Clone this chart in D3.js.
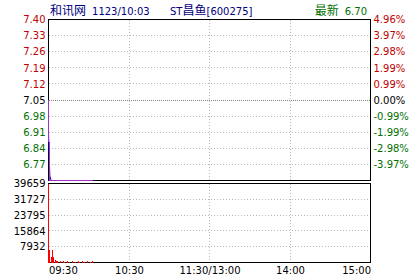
<!DOCTYPE html>
<html>
<head>
<meta charset="utf-8">
<script src="https://cdn.jsdelivr.net/npm/d3@7"></script>
<style>
  body { margin: 0; background: #fff; }
  svg { display: block; }
</style>
</head>
<body>
<svg id="chart" width="420" height="280"></svg>
<script>
// data
const preClose = 7.05;
const lastPrice = 6.70;
const priceTicks = [7.40, 7.33, 7.26, 7.19, 7.12, 7.05, 6.98, 6.91, 6.84, 6.77, 6.70];
const volTicks = [39659, 31727, 23795, 15864, 7932, 0];
const timeMinutes = [0, 60, 120, 180, 240];
const timeLabels = ['09:30', '10:30', '11:30/13:00', '14:00', '15:00'];

// one value per minute, 09:30 .. 10:03
const price = [6.91, 6.72, 6.70, 6.70, 6.70, 6.70, 6.70, 6.70, 6.70, 6.70, 6.70, 6.70,
  6.70, 6.70, 6.70, 6.70, 6.70, 6.70, 6.70, 6.70, 6.70, 6.70, 6.70, 6.70,
  6.70, 6.70, 6.70, 6.70, 6.70, 6.70, 6.70, 6.70, 6.70, 6.70];
const avgPrice = [7.05, 6.70, 6.70, 6.70, 6.70, 6.70, 6.70, 6.70, 6.70, 6.70, 6.70, 6.70,
  6.70, 6.70, 6.70, 6.70, 6.70, 6.70, 6.70, 6.70, 6.70, 6.70, 6.70, 6.70,
  6.70, 6.70, 6.70, 6.70, 6.70, 6.70, 6.70, 6.70, 6.70, 6.70];
const volume = [39659, 6500, 3000, 6200, 2600, 1500, 900, 700, 0, 600, 0, 700,
  500, 0, 600, 0, 500, 0, 600, 0, 500, 0, 600, 500, 0, 600, 0, 500,
  0, 600, 0, 500, 0, 600];

const svg = d3.select('#chart');
const FONT = 'DejaVu Sans, Verdana, sans-serif';
const CJK = 'Noto Sans CJK SC, sans-serif';
const RED = '#c00000', GREEN = '#007000', NAVY = '#000080';

// panel boxes
const left = 48.5, right = 370.5;
const pTop = 19.5, pBot = 180.5;
const vTop = 183.5, vBot = 262.5;

const x = d3.scaleLinear().domain([0, 240]).range([left, right]);
const yP = d3.scaleLinear().domain([6.70, 7.40]).range([pBot, pTop]);
const yV = d3.scaleLinear().domain([0, 39659]).range([vBot, vTop]);

const colorOf = v => Math.abs(v - preClose) < 1e-6 ? '#000' : (v > preClose ? RED : GREEN);
const snap = v => Math.round(v - 0.5) + 0.5;
// plain hyphen for minus, like the original
const pct = d => ((d - preClose) / preClose * 100).toFixed(2) + '%';

// title line
const t1 = svg.append('text').attr('x', 50).attr('y', 15).attr('fill', NAVY);
t1.append('tspan').attr('font-family', CJK).attr('font-size', 12).text('和讯网');
t1.append('tspan').attr('font-family', FONT).attr('font-size', 10).attr('dx', 6).text('1123/10:03');

const t2 = svg.append('text').attr('x', 170).attr('y', 15).attr('fill', NAVY);
t2.append('tspan').attr('font-family', FONT).attr('font-size', 10).text('ST');
t2.append('tspan').attr('font-family', CJK).attr('font-size', 12).text('昌鱼');
t2.append('tspan').attr('font-family', FONT).attr('font-size', 10).text('[600275]');

const t3 = svg.append('text').attr('x', 367).attr('y', 15).attr('text-anchor', 'end').attr('fill', GREEN);
t3.append('tspan').attr('font-family', CJK).attr('font-size', 12).text('最新');
t3.append('tspan').attr('font-family', FONT).attr('font-size', 10).attr('dx', 6).text(lastPrice.toFixed(2));

// grid
const grid = svg.append('g').attr('shape-rendering', 'crispEdges');
grid.selectAll('.hp')
  .data(priceTicks.slice(1, -1))
  .enter().append('line')
  .attr('x1', left).attr('x2', right)
  .attr('y1', d => snap(yP(d))).attr('y2', d => snap(yP(d)))
  .attr('stroke', d => d === preClose ? '#808080' : '#b8b8b8')
  .attr('stroke-dasharray', d => d === preClose ? '1,1' : '1,2');

grid.selectAll('.hv')
  .data(volTicks.slice(1, -1))
  .enter().append('line')
  .attr('x1', left).attr('x2', right)
  .attr('y1', d => snap(yV(d))).attr('y2', d => snap(yV(d)))
  .attr('stroke', '#b8b8b8')
  .attr('stroke-dasharray', '1,2');

[[pTop, pBot], [vTop, vBot]].forEach(([a, b]) => {
  grid.selectAll(null)
    .data(timeMinutes.slice(1, -1))
    .enter().append('line')
    .attr('x1', d => snap(x(d))).attr('x2', d => snap(x(d)))
    .attr('y1', a).attr('y2', b)
    .attr('stroke', '#b8b8b8')
    .attr('stroke-dasharray', '1,2');
});

// boxes
svg.append('rect').attr('x', left).attr('y', pTop).attr('width', right - left).attr('height', pBot - pTop)
  .attr('fill', 'none').attr('stroke', '#000').attr('shape-rendering', 'crispEdges');
svg.append('rect').attr('x', left).attr('y', vTop).attr('width', right - left).attr('height', vBot - vTop)
  .attr('fill', 'none').attr('stroke', '#000').attr('shape-rendering', 'crispEdges');

// axes
const axL = svg.append('g').attr('transform', `translate(${left - 2},0)`)
  .call(d3.axisLeft(yP).tickValues(priceTicks.slice(0, -1)).tickSize(0).tickPadding(1).tickFormat(d => d.toFixed(2)));
axL.select('.domain').remove();
axL.selectAll('text').attr('font-family', FONT).attr('font-size', 10).attr('fill', d => colorOf(d));

const axR = svg.append('g').attr('transform', `translate(${right + 2},0)`)
  .call(d3.axisRight(yP).tickValues(priceTicks.slice(0, -1)).tickSize(0).tickPadding(1).tickFormat(pct));
axR.select('.domain').remove();
axR.selectAll('text').attr('font-family', FONT).attr('font-size', 10).attr('fill', d => colorOf(d));

const axV = svg.append('g').attr('transform', `translate(${left - 2},0)`)
  .call(d3.axisLeft(yV).tickValues(volTicks.slice(0, -1)).tickSize(0).tickPadding(1).tickFormat(d3.format('d')));
axV.select('.domain').remove();
axV.selectAll('text').attr('font-family', FONT).attr('font-size', 10).attr('fill', '#000');

const axT = svg.append('g').attr('transform', `translate(0,${vBot + 3})`)
  .call(d3.axisBottom(x).tickValues(timeMinutes).tickSize(0).tickPadding(1)
    .tickFormat((d, i) => timeLabels[i]));
axT.select('.domain').remove();
axT.selectAll('text')
  .attr('font-family', FONT).attr('font-size', 10).attr('fill', '#000')
  .attr('text-anchor', (d, i) => i === 0 ? 'start' : (i === timeMinutes.length - 1 ? 'end' : 'middle'));

// volume bars
svg.append('g').attr('shape-rendering', 'crispEdges')
  .selectAll('line')
  .data(volume)
  .enter().append('line')
  .attr('x1', (d, i) => snap(x(i))).attr('x2', (d, i) => snap(x(i)))
  .attr('y1', vBot).attr('y2', d => yV(d))
  .attr('stroke', '#ff0000');

// price and average lines
svg.append('path')
  .datum(price)
  .attr('fill', 'none')
  .attr('stroke', '#0000e0')
  .attr('d', d3.line().x((d, i) => x(i)).y(d => yP(d)));

svg.append('path')
  .datum(avgPrice)
  .attr('fill', 'none')
  .attr('stroke', '#a030c8')
  .attr('shape-rendering', 'crispEdges')
  .attr('d', d3.line().x((d, i) => snap(x(i))).y(d => snap(yP(d))));
</script>
</body>
</html>
